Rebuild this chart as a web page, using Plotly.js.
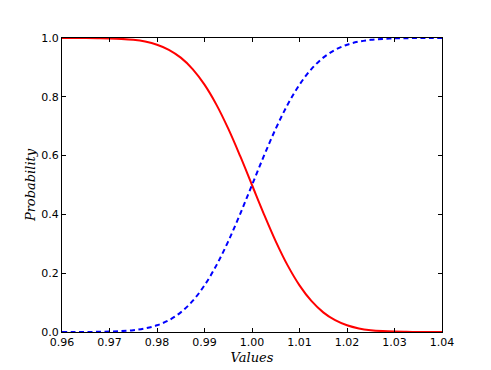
<!DOCTYPE html>
<html>
<head>
<meta charset="utf-8">
<script src="https://cdn.plot.ly/plotly-3.0.1.min.js"></script>
<style>
  html, body { margin: 0; padding: 0; background: #fff; }
  #chart { width: 491px; height: 370px; }
</style>
</head>
<body>
<div id="chart"></div>
<script>
// values
const xValues = [0.96, 0.9625, 0.965, 0.9675, 0.97, 0.9725, 0.975, 0.9775, 0.98, 0.9825,
  0.985, 0.9875, 0.99, 0.9925, 0.995, 0.9975, 1.0, 1.0025, 1.005, 1.0075, 1.01,
  1.0125, 1.015, 1.0175, 1.02, 1.0225, 1.025, 1.0275, 1.03, 1.0325, 1.035, 1.0375, 1.04];

const cdfValues = [0.0000, 0.0001, 0.0002, 0.0006, 0.0013, 0.0030, 0.0062, 0.0122, 0.0228, 0.0401,
  0.0668, 0.1056, 0.1587, 0.2266, 0.3085, 0.4013, 0.5000, 0.5987, 0.6915, 0.7734, 0.8413,
  0.8944, 0.9332, 0.9599, 0.9772, 0.9878, 0.9938, 0.9970, 0.9987, 0.9994, 0.9998, 0.9999, 1.0000];

const sfValues = [1.0000, 0.9999, 0.9998, 0.9994, 0.9987, 0.9970, 0.9938, 0.9878, 0.9772, 0.9599,
  0.9332, 0.8944, 0.8413, 0.7734, 0.6915, 0.5987, 0.5000, 0.4013, 0.3085, 0.2266, 0.1587,
  0.1056, 0.0668, 0.0401, 0.0228, 0.0122, 0.0062, 0.0030, 0.0013, 0.0006, 0.0002, 0.0001, 0.0000];

const xTicks = [0.96, 0.97, 0.98, 0.99, 1.00, 1.01, 1.02, 1.03, 1.04];
const xTickText = ['0.96', '0.97', '0.98', '0.99', '1.00', '1.01', '1.02', '1.03', '1.04'];
const yTicks = [0, 0.2, 0.4, 0.6, 0.8, 1.0];
const yTickText = ['0.0', '0.2', '0.4', '0.6', '0.8', '1.0'];

const traces = [
  {
    x: xValues, y: sfValues, type: 'scatter', mode: 'lines',
    line: { color: '#ff0000', width: 2, shape: 'spline' }
  },
  {
    x: xValues, y: cdfValues, type: 'scatter', mode: 'lines',
    line: { color: '#0000ff', width: 2, dash: '5px,3.5px', shape: 'spline' }
  }
];

const axisCommon = {
  showgrid: false, zeroline: false,
  showline: true, linecolor: '#000', linewidth: 1, mirror: 'ticks',
  ticks: 'inside', ticklen: 4, tickcolor: '#000', tickwidth: 1,
  tickfont: { family: 'DejaVu Sans', size: 11, color: '#000' }
};

const layout = {
  width: 491, height: 370,
  margin: { l: 62, r: 49, t: 38, b: 38 },
  paper_bgcolor: '#fff', plot_bgcolor: '#fff',
  showlegend: false,
  xaxis: Object.assign({}, axisCommon, {
    range: [0.96, 1.04], tickvals: xTicks, ticktext: xTickText,
    title: { text: '<i>Values</i>', font: { family: 'DejaVu Serif', size: 13, color: '#000' }, standoff: 4 }
  }),
  yaxis: Object.assign({}, axisCommon, {
    range: [0, 1.0], tickvals: yTicks, ticktext: yTickText,
    title: { text: '<i>Probability</i>', font: { family: 'DejaVu Serif', size: 13, color: '#000' }, standoff: 2 }
  })
};

Plotly.newPlot('chart', traces, layout, { staticPlot: true, displayModeBar: false });
</script>
</body>
</html>
